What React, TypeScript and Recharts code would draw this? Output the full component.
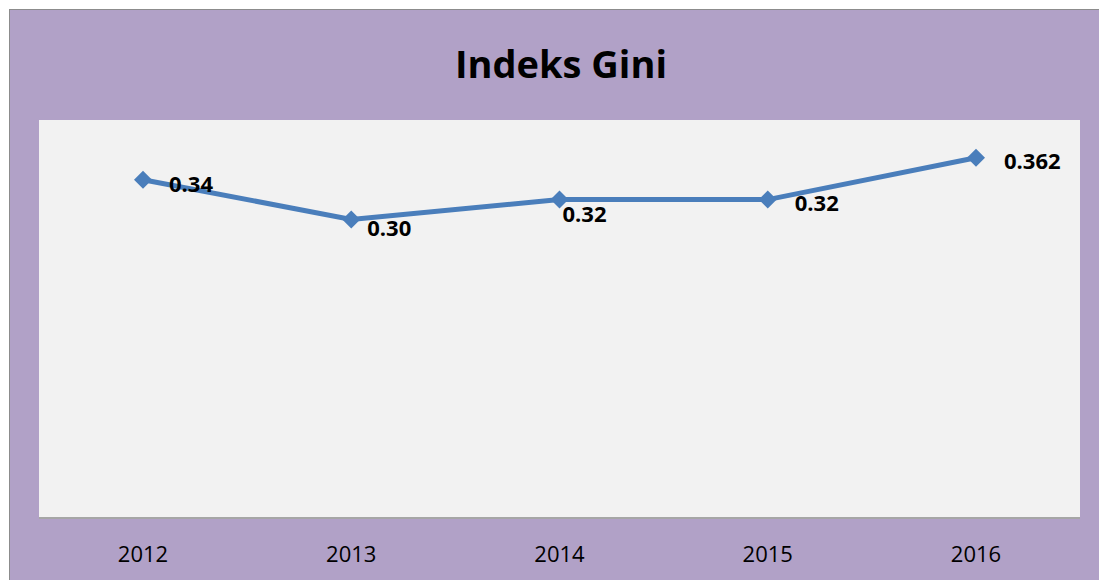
import { LineChart, Line, XAxis, YAxis, CartesianGrid, LabelList } from "recharts";

const years = ["2012", "2013", "2014", "2015", "2016"];
const giniValues = [0.34, 0.3, 0.32, 0.32, 0.362];
const valueLabels = ["0.34", "0.30", "0.32", "0.32", "0.362"];

// hand-placed label nudges, as in the original sheet
const labelNudge = [
  { dx: 26, dy: 3 },
  { dx: 16, dy: 7 },
  { dx: 3, dy: 13 },
  { dx: 27, dy: 2 },
  { dx: 28, dy: 2 },
];

const data = years.map((year, i) => ({ year, gini: giniValues[i], label: valueLabels[i] }));

const FONT = "'Open Sans', 'Liberation Sans', sans-serif";

const Diamond = (props: any) => {
  const { cx, cy } = props;
  if (cx == null || cy == null) return null;
  const r = 9;
  return (
    <path
      d={`M${cx} ${cy - r} L${cx + r} ${cy} L${cx} ${cy + r} L${cx - r} ${cy} Z`}
      fill="#4A7EBB"
    />
  );
};

const ValueLabel = (props: any) => {
  const { x, y, index, value } = props;
  const n = labelNudge[index] || { dx: 20, dy: 0 };
  return (
    <text
      x={x + n.dx}
      y={y + n.dy}
      dominantBaseline="central"
      fontFamily={FONT}
      fontWeight={700}
      fontSize={22}
      fill="#000"
    >
      {value}
    </text>
  );
};

export default function App() {
  return (
    <div
      style={{
        position: "absolute",
        left: 9,
        top: 9,
        width: 1100,
        height: 580,
        background: "#B1A1C7",
        border: "1px solid #8c8c8c",
        boxSizing: "border-box",
        overflow: "hidden",
      }}
    >
      <div
        style={{
          position: "absolute",
          left: 0,
          top: 27,
          width: 1102,
          textAlign: "center",
          fontFamily: FONT,
          fontWeight: 700,
          fontSize: 38,
          color: "#000",
        }}
      >
        Indeks Gini
      </div>
      <LineChart
        width={1090}
        height={570}
        data={data}
        margin={{ top: 110, right: 20, bottom: 0, left: 29 }}
        style={{ position: "absolute", left: 0, top: 0 }}
      >
        <CartesianGrid fill="#F2F2F2" horizontal={false} vertical={false} />
        <XAxis
          dataKey="year"
          height={62}
          padding={{ left: 104, right: 104 }}
          axisLine={{ stroke: "#A6A6A6", strokeWidth: 2 }}
          tickLine={false}
          tick={{ fontSize: 22, fill: "#000", fontFamily: FONT }}
          tickMargin={22}
        />
        <YAxis hide domain={[0, 0.4]} />
        <Line
          type="linear"
          dataKey="gini"
          stroke="#4A7EBB"
          strokeWidth={5}
          dot={<Diamond />}
          activeDot={false}
          isAnimationActive={false}
        >
          <LabelList dataKey="label" content={<ValueLabel />} />
        </Line>
      </LineChart>
    </div>
  );
}
